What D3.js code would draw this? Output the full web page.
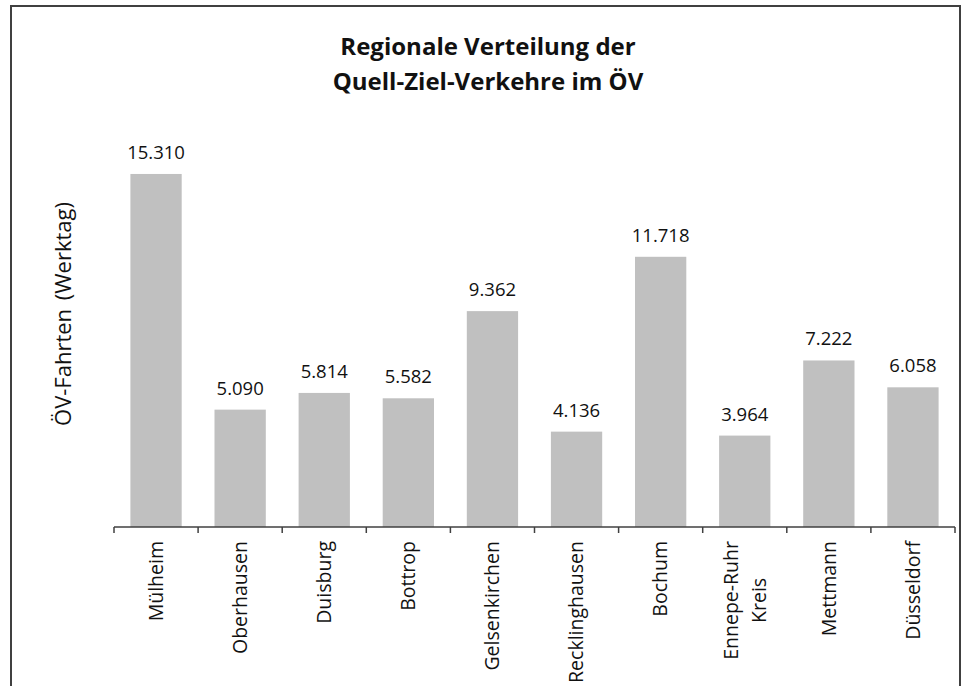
<!DOCTYPE html>
<html>
<head>
<meta charset="utf-8">
<script src="https://cdn.jsdelivr.net/npm/d3@7"></script>
<style>
  body { margin: 0; background: #fff; }
  text { font-family: "Open Sans", sans-serif; fill: #111; }
</style>
</head>
<body>
<div id="chart"></div>
<script>
const categories = ["Mülheim", "Oberhausen", "Duisburg", "Bottrop", "Gelsenkirchen",
  "Recklinghausen", "Bochum", "Ennepe-Ruhr\nKreis", "Mettmann", "Düsseldorf"];
const values = [15310, 5090, 5814, 5582, 9362, 4136, 11718, 3964, 7222, 6058];
const titleLines = ["Regionale Verteilung der", "Quell-Ziel-Verkehre im ÖV"];
const yLabel = "ÖV-Fahrten (Werktag)";

const W = 965, H = 686;
const svg = d3.select("#chart").append("svg")
  .attr("width", W).attr("height", H);

// frame (bottom edge runs off the picture)
svg.append("rect")
  .attr("x", 11).attr("y", 6)
  .attr("width", 949).attr("height", 700)
  .attr("fill", "none").attr("stroke", "#404040").attr("stroke-width", 2);

const margin = {left: 114, right: 10, top: 135, bottom: 159};
const plotW = W - margin.left - margin.right;   // 841
const baseY = H - margin.bottom;                // 527

const x = d3.scaleBand()
  .domain(categories)
  .range([margin.left, margin.left + plotW])
  .paddingInner(0.39).paddingOuter(0.195);

const y = d3.scaleLinear()
  .domain([0, 17000])
  .range([baseY, baseY - 392]);

const fmt = d3.formatLocale({decimal: ",", thousands: ".", grouping: [3], currency: ["", "€"]}).format(",d");

svg.append("g").selectAll("rect")
  .data(values)
  .join("rect")
  .attr("x", (d, i) => x(categories[i]))
  .attr("y", d => y(d))
  .attr("width", x.bandwidth())
  .attr("height", d => baseY - y(d))
  .attr("fill", "#c0c0c0");

svg.append("g").selectAll("text")
  .data(values)
  .join("text")
  .attr("x", (d, i) => x(categories[i]) + x.bandwidth() / 2)
  .attr("y", d => y(d) - 15)
  .attr("text-anchor", "middle")
  .style("font-size", "18.5px")
  .text(d => fmt(d));

// x axis with tick marks between categories
const axis = svg.append("g");
axis.append("line")
  .attr("x1", margin.left).attr("x2", margin.left + plotW)
  .attr("y1", baseY).attr("y2", baseY)
  .attr("stroke", "#404040").attr("stroke-width", 1.5);
const step = x.step();
axis.selectAll("line.tick")
  .data(d3.range(categories.length + 1))
  .join("line")
  .attr("class", "tick")
  .attr("x1", i => margin.left + i * step).attr("x2", i => margin.left + i * step)
  .attr("y1", baseY).attr("y2", baseY + 6)
  .attr("stroke", "#404040").attr("stroke-width", 1.5);

// rotated category labels, block starts just under the axis
const labelTop = 541;
categories.forEach(function(c, i) {
  const lines = c.split("\n");
  const cx = x(c) + x.bandwidth() / 2;
  const t = svg.append("text")
    .attr("transform", `translate(${cx},${labelTop}) rotate(-90)`)
    .style("font-size", "19.5px");
  const spans = lines.map(function(l, j) {
    return t.append("tspan")
      .attr("y", (j - (lines.length - 1) / 2) * 28)
      .attr("dy", "0.35em")
      .text(l);
  });
  // lines centred on each other, longest one ends at labelTop
  const maxLen = d3.max(spans, s => s.node().getComputedTextLength());
  spans.forEach(s => s.attr("x", -maxLen / 2).attr("text-anchor", "middle"));
});

svg.append("text")
  .attr("transform", `translate(63,314) rotate(-90)`)
  .attr("text-anchor", "middle")
  .attr("dy", "0.35em")
  .style("font-size", "22px")
  .style("word-spacing", "3px")
  .text(yLabel);

svg.append("g").selectAll("text")
  .data(titleLines)
  .join("text")
  .attr("x", 488)
  .attr("y", (d, i) => 55 + i * 35)
  .attr("text-anchor", "middle")
  .style("font-size", "24px")
  .style("font-weight", "bold")
  .text(d => d);
</script>
</body>
</html>
